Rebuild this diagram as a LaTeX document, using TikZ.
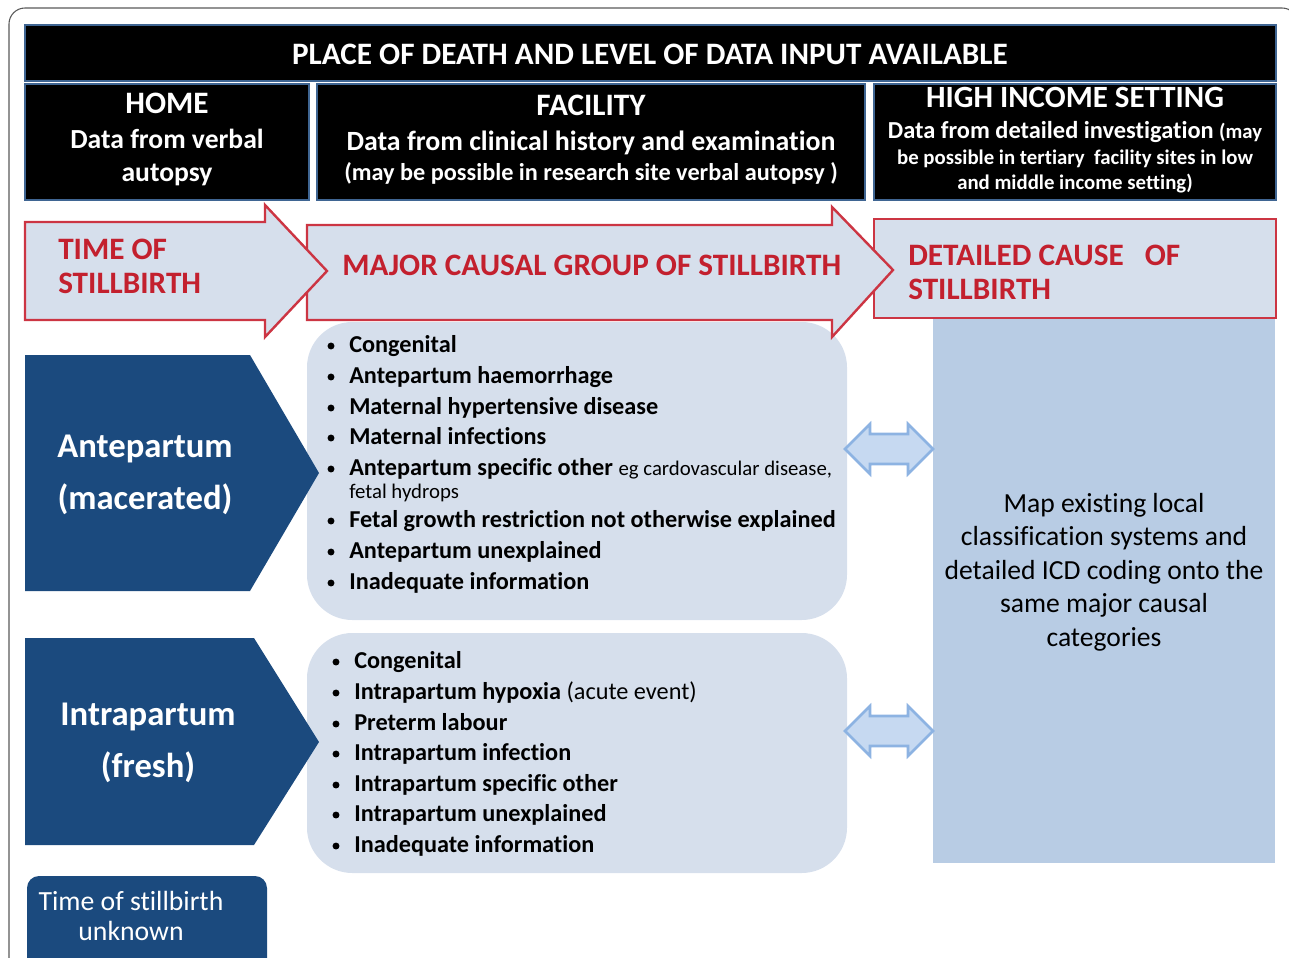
\documentclass[tikz,border=0pt]{standalone}
\usepackage{fontspec}
\setmainfont{Carlito}[Ligatures=NoCommon]
\definecolor{dkblue}{HTML}{1B4A7E}
\definecolor{frameblue}{HTML}{3F6592}
\definecolor{redtxt}{HTML}{C3202E}
\definecolor{redline}{HTML}{CC3543}
\definecolor{lightfill}{HTML}{D6DFEC}
\definecolor{colfill}{HTML}{B8CCE4}
\definecolor{dafill}{HTML}{C6D9F1}
\definecolor{daline}{HTML}{8DB3E2}
\begin{document}
\begin{tikzpicture}[x=0.75pt,y=-0.75pt,line join=miter,
  blackbox/.style={fill=black,draw=frameblue,line width=1.8pt},
  redarrow/.style={fill=lightfill,draw=redline,line width=1.8pt},
  chevron/.style={fill=dkblue,draw=none},
  listbox/.style={fill=lightfill,draw=none,rounded corners=34pt},
  dblarrow/.style={fill=dafill,draw=daline,line width=2pt},
  wtxt/.style={text=white,inner sep=0pt},
  hdr/.style={wtxt,anchor=base,font=\bfseries\fontsize{20.7}{24}\selectfont},
  rtxt/.style={text=redtxt,inner sep=0pt,align=left,anchor=west,font=\bfseries\fontsize{23.4}{25.5}\selectfont},
  item/.style={anchor=base west,inner sep=0pt,font=\bfseries\fontsize{18.2}{21}\selectfont},
  bul/.style={circle,fill=black,inner sep=0pt,minimum size=5.2pt}
]
\useasboundingbox (0,0) rectangle (1289,957);
% outer frame
\draw[gray!70!black,line width=0.8pt,rounded corners=12pt] (9,970) -- (9,8) -- (1298,8) -- (1298,970);

% header boxes
\path[blackbox] (25,25) rectangle (1276,81);
\path[blackbox] (25,84) rectangle (309,200);
\path[blackbox] (317,84) rectangle (865,200);
\path[blackbox] (874,84) rectangle (1276,200);

\node[wtxt,anchor=base,font=\bfseries\fontsize{23.4}{27}\selectfont] (title) at (650,64) {PLACE OF DEATH AND LEVEL OF DATA INPUT AVAILABLE};

\node[hdr,font=\bfseries\fontsize{23.4}{27}\selectfont] (home1) at (167,113) {HOME};
\node[hdr] (home2) at (167,148) {Data from verbal};
\node[hdr] (home3) at (167,181) {autopsy};

\node[hdr,font=\bfseries\fontsize{23.4}{27}\selectfont] (fac1) at (591,115) {FACILITY};
\node[hdr,font=\bfseries\fontsize{20.9}{24}\selectfont] (fac2) at (591,150) {Data from clinical history and examination};
\node[hdr,font=\bfseries\fontsize{18.2}{21}\selectfont] (fac3) at (591,180) {(may be possible in research site verbal autopsy )};

\node[hdr,font=\bfseries\fontsize{23.2}{27}\selectfont] (hi1) at (1075,107) {HIGH INCOME SETTING};
\node[hdr,font=\bfseries\fontsize{18.3}{21}\selectfont] (hi2) at (1075,138) {Data from detailed investigation {\fontsize{15.5}{18}\selectfont(may}};
\node[hdr,font=\bfseries\fontsize{15.6}{18}\selectfont] (hi3) at (1075,164) {be possible in tertiary\ \ facility sites in low};
\node[hdr,font=\bfseries\fontsize{15.6}{18}\selectfont] (hi4) at (1075,189) {and middle income setting)};

% right column and detailed box
\path[fill=colfill] (933,318) rectangle (1275,863);
\path[redarrow] (874,219) rectangle (1276,318);

% list boxes
\path[listbox] (307,322) rectangle (847,620);
\path[listbox] (307,633) rectangle (847,873);

% major arrow
\path[redarrow] (307,225) -- (832,225) -- (832,207) -- (893,270) -- (832,337) -- (832,320) -- (307,320) -- cycle;
% time arrow
\path[redarrow] (25,222) -- (265,222) -- (265,205) -- (327,271) -- (265,337) -- (265,320) -- (25,320) -- cycle;

\node[rtxt] (timeof) at (58,266) {TIME OF\\STILLBIRTH};
\node[rtxt] (major) at (342,265) {MAJOR CAUSAL GROUP OF STILLBIRTH};
\node[rtxt] (detail) at (908,272) {DETAILED CAUSE\ \ \ OF\\STILLBIRTH};

% chevrons
\path[chevron] (25,355) -- (250,355) -- (319,473) -- (250,591) -- (25,591) -- cycle;
\path[chevron] (25,638) -- (254,638) -- (319,742) -- (254,845) -- (25,845) -- cycle;
\node[wtxt,align=center,font=\bfseries\fontsize{26}{38.5}\selectfont] (ante) at (145,475) {Antepartum\\(macerated)};
\node[wtxt,align=center,font=\bfseries\fontsize{26}{38.5}\selectfont] (intra) at (148,743) {Intrapartum\\(fresh)};

% time unknown
\path[fill=dkblue,rounded corners=9pt] (27,876) rectangle (267,975);
\node[wtxt,align=center,font=\fontsize{20.8}{22.5}\selectfont] (unknown) at (131,916) {Time of stillbirth\\unknown};

% list 1
\node[item] (a1) at (349,352) {Congenital};
\node[item] (a2) at (349,383) {Antepartum haemorrhage};
\node[item] (a3) at (349,414) {Maternal hypertensive disease};
\node[item] (a4) at (349,444) {Maternal infections};
\node[item] (a5) at (349,475) {Antepartum specific other {\mdseries\fontsize{15.6}{18}\selectfont eg cardovascular disease,}};
\node[item,font=\fontsize{15.6}{18}\selectfont] (a5b) at (349,498) {fetal hydrops};
\node[item] (a6) at (349,527) {Fetal growth restriction not otherwise explained};
\node[item] (a7) at (349,558) {Antepartum unexplained};
\node[item] (a8) at (349,589) {Inadequate information};
\foreach \n/\yy in {1/346,2/377,3/408,4/438,5/469,6/521,7/552,8/583}
  \node[bul] (ba\n) at (331,\yy) {};

% list 2
\node[item] (b1) at (354,668) {Congenital};
\node[item] (b2) at (354,699) {Intrapartum hypoxia {\mdseries (acute event)}};
\node[item] (b3) at (354,730) {Preterm labour};
\node[item] (b4) at (354,760) {Intrapartum infection};
\node[item] (b5) at (354,791) {Intrapartum specific other};
\node[item] (b6) at (354,821) {Intrapartum unexplained};
\node[item] (b7) at (354,852) {Inadequate information};
\foreach \n/\yy in {1/662,2/693,3/724,4/754,5/785,6/815,7/846}
  \node[bul] (bb\n) at (336,\yy) {};

% double arrows
\foreach \c/\nm in {449/da1,731/da2}{
  \path[dblarrow] (845,\c) -- (870,\c-25) -- (870,\c-15) -- (908,\c-15) -- (908,\c-25) -- (933,\c)
    -- (908,\c+25) -- (908,\c+15) -- (870,\c+15) -- (870,\c+25) -- cycle;
  \coordinate (\nm) at (889,\c);
}

\node[inner sep=0pt,align=center,font=\fontsize{20.7}{25.2}\selectfont] (map) at (1104,572)
  {Map existing local\\classification systems and\\detailed ICD coding onto the\\same major causal\\categories};
\end{tikzpicture}
\end{document}
